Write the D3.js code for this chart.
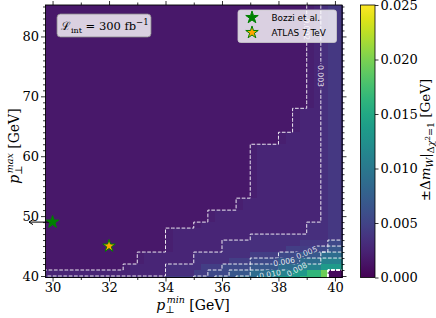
<!DOCTYPE html>
<html>
<head>
<meta charset="utf-8">
<script src="https://cdn.jsdelivr.net/npm/d3@7"></script>
<style>
  body { margin: 0; background: #fff; }
  svg text { font-family: "DejaVu Serif", serif; }
  .sans { font-family: "DejaVu Sans", sans-serif !important; }
</style>
</head>
<body>
<svg id="chart" width="436" height="318"></svg>
<script>
// axis ranges (GeV)
var pTminRange = [29.75, 40.25];
var pTmaxRange = [39.75, 85.25];

// cell edges: p_T^min in 0.25 GeV steps, p_T^max in 1 GeV steps (top to bottom)
var pTminEdges = d3.range(0, 43).map(function (k) { return 29.75 + 0.25 * k; });
var pTmaxEdges = [85.25].concat(d3.range(85, 39, -1), [39.75]);

// +-Delta m_W (GeV) for each code used in the grid below
var codeValue = {
  a: 0.0016, B: 0.0021, b: 0.0026, c: 0.0034, C: 0.0041, d: 0.0045,
  e: 0.0055, f: 0.0068, g: 0.0088, h: 0.0110, i: 0.0135, j: 0.0165,
  k: 0.0195, z: 0.0006
};

// rows top (85 GeV) to bottom (40 GeV), run-length coded left to right
var gridRows = [
  'a37 B1 b1 c1 C2', // 85
  'a37 B1 b1 c1 C2', // 84
  'a37 B1 b1 c1 C2',
  'a37 B1 b1 c1 C2',
  'a37 B1 b1 c1 C2', // 81
  'a37 B1 b1 c1 C2',
  'a37 B1 b1 c1 C2',
  'a37 B1 b1 c1 C2',
  'a37 B1 b1 c1 C2',
  'a37 B1 b1 c1 C2', // 76
  'a37 B1 b1 c1 C2',
  'a37 B1 b1 c1 C2',
  'a37 B1 b1 c1 C2',
  'a37 B1 b1 c1 C2',
  'a37 B1 b1 c1 C2', // 71
  'a37 B1 b1 c1 C2',
  'a37 B1 b1 c1 C2',
  'a37 B1 b1 c1 C2', // 68
  'a35 B1 b3 c1 C2', // 67
  'a35 B1 b3 c1 C2',
  'a35 B1 b3 c1 C2',
  'a35 B1 b3 c1 C2', // 64
  'a33 B1 b5 c1 C2', // 63
  'a33 B1 b5 c1 C2', // 62
  'a29 B1 b9 c1 C2', // 61
  'a29 B1 b9 c1 C2',
  'a29 B1 b9 c1 C2',
  'a29 B1 b9 c1 C2',
  'a29 B1 b9 c1 C2',
  'a29 B1 b9 c1 C2', // 56
  'a29 B1 b9 c1 C2',
  'a29 B1 b9 c1 C2',
  'a29 B1 b9 c1 C2', // 53
  'a27 B1 b11 c1 C2', // 52
  'a27 B1 b11 c1 C2', // 51
  'a23 B1 b15 c1 C2', // 50
  'a23 B1 b15 c1 C2', // 49
  'a21 B1 b15 c3 C2', // 48
  'a17 B1 b19 c3 C2', // 47
  'a17 B1 b11 c11 C2', // 46
  'a17 B1 b7 c11 C4 e2', // 45
  'a17 B1 b7 c9 d4 e2 f2', // 44
  'a13 B1 b7 c8 d4 e3 f3 g3', // 43
  'a13 B1 b7 c5 d3 e4 f3 g3 h3', // 42
  'a11 B1 b5 c5 d3 e4 f4 g3 h3 i3', // 41
  'b17 c4 d2 e3 f3 g3 h3 i2 j2 k1 z2', // 40
  'c17 d4 e3 f3 g3 h3 i3 j3 k1 z2' // 39.75
];

var contourLevels = [0.002, 0.003, 0.005, 0.006, 0.008, 0.010];
var contourLabels = [
  { level: 0.002, x: 39.0, y: 81.2, angle: 90 },
  { level: 0.003, x: 39.5, y: 73.4, angle: 90 },
  { level: 0.005, x: 39.0, y: 43.9, angle: -22 },
  { level: 0.006, x: 38.2, y: 42.4, angle: -10 },
  { level: 0.008, x: 38.65, y: 41.1, angle: -28 },
  { level: 0.010, x: 37.7, y: 40.3, angle: -10 }
];

var refNames = ['Bozzi et al.', 'ATLAS 7 TeV'];
var refPTmin = [30, 32];
var refPTmax = [49, 45];
var refFill = ['#008000', '#ffa500'];

var xTicks = [30, 32, 34, 36, 38, 40];
var yTicks = [40, 50, 60, 70, 80];
var cbTicks = [0, 0.005, 0.010, 0.015, 0.020, 0.025];

// ---------------------------------------------------------------
var svg = d3.select('#chart');
var L = 45.5, R = 342, T = 5, B = 277.5;

var x = d3.scaleLinear().domain(pTminRange).range([L, R]);
var y = d3.scaleLinear().domain(pTmaxRange).range([B, T]);
var color = d3.scaleSequential(d3.interpolateViridis).domain([0, 0.025]);

// decode rows, merging equal neighbours into horizontal runs
var grid = [];
var runs = [];
gridRows.forEach(function (row, r) {
  var out = [];
  row.split(' ').forEach(function (run) {
    var n = +run.slice(1);
    runs.push({ c0: out.length, c1: out.length + n, r: r, v: codeValue[run[0]] });
    for (var q = 0; q < n; q++) out.push(codeValue[run[0]]);
  });
  grid.push(out);
});

svg.append('rect')
  .attr('x', L).attr('y', T).attr('width', R - L).attr('height', B - T)
  .attr('fill', color(codeValue.a));

svg.append('g')
  .attr('shape-rendering', 'crispEdges')
  .selectAll('rect')
  .data(runs)
  .enter().append('rect')
  .attr('x', function (d) { return x(pTminEdges[d.c0]); })
  .attr('y', function (d) { return y(pTmaxEdges[d.r]); })
  .attr('width', function (d) { return x(pTminEdges[d.c1]) - x(pTminEdges[d.c0]) + 0.5; })
  .attr('height', function (d) { return y(pTmaxEdges[d.r + 1]) - y(pTmaxEdges[d.r]) + 0.5; })
  .attr('fill', function (d) { return color(d.v); });

// staircase contours along cell edges
function traceLevel (level) {
  var nR = grid.length, nC = grid[0].length;
  var segs = [];
  for (var r = 0; r < nR; r++) {
    for (var c = 0; c < nC; c++) {
      var up = grid[r][c] >= level;
      if (c + 1 < nC && up !== (grid[r][c + 1] >= level)) segs.push([[c + 1, r], [c + 1, r + 1]]);
      if (r + 1 < nR && up !== (grid[r + 1][c] >= level)) segs.push([[c, r + 1], [c + 1, r + 1]]);
    }
  }
  var key = function (p) { return p[0] + ',' + p[1]; };
  var byPt = new Map();
  segs.forEach(function (s, i) {
    s.forEach(function (p) {
      var k = key(p);
      if (!byPt.has(k)) byPt.set(k, []);
      byPt.get(k).push(i);
    });
  });
  var used = segs.map(function () { return false; });
  function extend (line, atStart) {
    for (;;) {
      var end = atStart ? line[0] : line[line.length - 1];
      var cand = byPt.get(key(end)).filter(function (j) { return !used[j]; });
      if (!cand.length) break;
      used[cand[0]] = true;
      var s = segs[cand[0]];
      var next = key(s[0]) === key(end) ? s[1] : s[0];
      if (atStart) line.unshift(next); else line.push(next);
    }
  }
  var lines = [];
  segs.forEach(function (s, i) {
    if (used[i]) return;
    used[i] = true;
    var line = [s[0], s[1]];
    extend(line, false);
    extend(line, true);
    lines.push(line);
  });
  return lines;
}

var defs = svg.append('defs');
var mask = defs.append('mask').attr('id', 'lblmask').attr('maskUnits', 'userSpaceOnUse')
  .attr('x', 0).attr('y', 0).attr('width', 436).attr('height', 318);
mask.append('rect').attr('width', 436).attr('height', 318).attr('fill', '#fff');
mask.selectAll('.hole')
  .data(contourLabels)
  .enter().append('rect')
  .attr('x', -12).attr('y', -4.5).attr('width', 24).attr('height', 9)
  .attr('transform', function (d) { return 'translate(' + x(d.x) + ',' + y(d.y) + ') rotate(' + d.angle + ')'; })
  .attr('fill', '#000');

var lineGen = d3.line()
  .x(function (p) { return x(pTminEdges[p[0]]); })
  .y(function (p) { return y(pTmaxEdges[p[1]]); });

var cg = svg.append('g').attr('mask', 'url(#lblmask)');
contourLevels.forEach(function (lv) {
  cg.selectAll(null)
    .data(traceLevel(lv))
    .enter().append('path')
    .attr('d', lineGen)
    .attr('fill', 'none')
    .attr('stroke', '#fff')
    .attr('stroke-opacity', 0.9)
    .attr('stroke-width', 1)
    .attr('stroke-dasharray', '3.7,1.6');
});

svg.append('g').selectAll('text')
  .data(contourLabels)
  .enter().append('text')
  .attr('class', 'sans')
  .attr('transform', function (d) { return 'translate(' + x(d.x) + ',' + y(d.y) + ') rotate(' + d.angle + ')'; })
  .attr('text-anchor', 'middle')
  .attr('dy', '0.35em')
  .attr('font-size', 7.7)
  .attr('fill', '#fff')
  .attr('fill-opacity', 0.85)
  .text(function (d) { return d3.format('.3f')(d.level); });

// arrow from the Bozzi et al. point
svg.append('line')
  .attr('x1', x(refPTmin[0])).attr('y1', y(refPTmax[0]))
  .attr('x2', 29).attr('y2', y(refPTmax[0]))
  .attr('stroke', '#000').attr('stroke-width', 1);
svg.append('path')
  .attr('d', 'M' + 33 + ',' + (y(refPTmax[0]) - 2.5) + 'L29,' + y(refPTmax[0]) + 'L33,' + (y(refPTmax[0]) + 2.5))
  .attr('fill', 'none').attr('stroke', '#000').attr('stroke-width', 1);

var star = d3.symbol().type(d3.symbolStar).size(48);
svg.append('g').selectAll('path')
  .data(refNames)
  .enter().append('path')
  .attr('d', star)
  .attr('transform', function (d, i) { return 'translate(' + x(refPTmin[i]) + ',' + y(refPTmax[i]) + ')'; })
  .attr('fill', function (d, i) { return refFill[i]; })
  .attr('stroke', '#008000')
  .attr('stroke-width', 1);

// frame + ticks on all sides
svg.append('rect')
  .attr('x', L).attr('y', T).attr('width', R - L).attr('height', B - T)
  .attr('fill', 'none').attr('stroke', '#000').attr('stroke-width', 0.9);

function styleAxis (g) {
  g.select('.domain').remove();
  g.selectAll('line').attr('stroke', '#000').attr('stroke-width', 0.8);
  g.selectAll('text').attr('font-family', '"DejaVu Serif", serif').attr('font-size', 13).attr('fill', '#000');
}
var xMinor = d3.range(30, 41).filter(function (v) { return xTicks.indexOf(v) < 0; });
var yMinor = d3.range(40, 86).filter(function (v) { return yTicks.indexOf(v) < 0; });

svg.append('g').attr('transform', 'translate(0,' + B + ')')
  .call(d3.axisBottom(x).tickValues(xTicks).tickSize(4).tickPadding(1).tickFormat(d3.format('d'))).call(styleAxis);
svg.append('g').attr('transform', 'translate(0,' + B + ')')
  .call(d3.axisBottom(x).tickValues(xMinor).tickSize(2.5).tickFormat('')).call(styleAxis);
svg.append('g').attr('transform', 'translate(0,' + T + ')')
  .call(d3.axisTop(x).tickValues(xTicks).tickSize(4).tickFormat('')).call(styleAxis);
svg.append('g').attr('transform', 'translate(0,' + T + ')')
  .call(d3.axisTop(x).tickValues(xMinor).tickSize(2.5).tickFormat('')).call(styleAxis);
svg.append('g').attr('transform', 'translate(' + L + ',0)')
  .call(d3.axisLeft(y).tickValues(yTicks).tickSize(4.5).tickPadding(2).tickFormat(d3.format('d'))).call(styleAxis);
svg.append('g').attr('transform', 'translate(' + L + ',0)')
  .call(d3.axisLeft(y).tickValues(yMinor).tickSize(2.5).tickFormat('')).call(styleAxis);
svg.append('g').attr('transform', 'translate(' + R + ',0)')
  .call(d3.axisRight(y).tickValues(yTicks).tickSize(4.5).tickFormat('')).call(styleAxis);
svg.append('g').attr('transform', 'translate(' + R + ',0)')
  .call(d3.axisRight(y).tickValues(yMinor).tickSize(2.5).tickFormat('')).call(styleAxis);

// axis titles
var xt = svg.append('text').attr('x', 193).attr('y', 309.5).attr('text-anchor', 'middle').attr('font-size', 14);
xt.append('tspan').attr('font-style', 'italic').text('p');
xt.append('tspan').attr('font-size', 10).attr('dy', 3).text('\u22a5');
xt.append('tspan').attr('font-size', 9.5).attr('font-style', 'italic').attr('dx', -8).attr('dy', -9.5).text('min');
xt.append('tspan').attr('dy', 6.5).text(' [GeV]');

var yt = svg.append('text').attr('transform', 'translate(19,146) rotate(-90)').attr('text-anchor', 'middle').attr('font-size', 14);
yt.append('tspan').attr('font-style', 'italic').text('p');
yt.append('tspan').attr('font-size', 10).attr('dy', 3).text('\u22a5');
yt.append('tspan').attr('font-size', 9.5).attr('font-style', 'italic').attr('dx', -8).attr('dy', -9.5).text('max');
yt.append('tspan').attr('dy', 6.5).text(' [GeV]');

// colorbar
var cbL = 360.5, cbW = 14.5;
var cb = d3.scaleLinear().domain([0, 0.025]).range([B, T]);
var grad = defs.append('linearGradient').attr('id', 'cbgrad').attr('x1', 0).attr('y1', 1).attr('x2', 0).attr('y2', 0);
d3.range(0, 1.0001, 0.05).forEach(function (t) {
  grad.append('stop').attr('offset', t).attr('stop-color', d3.interpolateViridis(t));
});
svg.append('rect').attr('x', cbL).attr('y', T).attr('width', cbW).attr('height', B - T)
  .attr('fill', 'url(#cbgrad)').attr('stroke', '#000').attr('stroke-width', 0.8);
svg.append('g').attr('transform', 'translate(' + (cbL + cbW) + ',0)')
  .call(d3.axisRight(cb).tickValues(cbTicks).tickSize(3.5).tickPadding(2).tickFormat(d3.format('.3f'))).call(styleAxis);

var ct = svg.append('text').attr('transform', 'translate(430,140) rotate(-90)').attr('text-anchor', 'middle').attr('font-size', 13.5);
ct.append('tspan').text('\u00b1\u0394');
ct.append('tspan').attr('font-style', 'italic').text('m');
ct.append('tspan').attr('font-style', 'italic').attr('font-size', 9.5).attr('dy', 3).text('W');
ct.append('tspan').attr('dy', -3).text('|');
ct.append('tspan').attr('font-size', 9.5).attr('dy', 4).text('\u0394');
ct.append('tspan').attr('font-size', 9.5).attr('font-style', 'italic').text('\u03c7');
ct.append('tspan').attr('font-size', 7).attr('dy', -4).text('2');
ct.append('tspan').attr('font-size', 9.5).attr('dy', 4).text('=1');
ct.append('tspan').attr('dy', -4).text(' [GeV]');

// legend
var lg = svg.append('g');
lg.append('rect').attr('x', 238).attr('y', 10).attr('width', 98.5).attr('height', 32.5).attr('rx', 2.5)
  .attr('fill', '#fff').attr('fill-opacity', 0.8).attr('stroke', '#cccccc').attr('stroke-width', 0.8);
refNames.forEach(function (name, i) {
  lg.append('path').attr('d', star).attr('transform', 'translate(252,' + (17.5 + 15 * i) + ')')
    .attr('fill', refFill[i]).attr('stroke', '#008000').attr('stroke-width', 1);
  lg.append('text').attr('class', 'sans').attr('x', 271.5).attr('y', 20.6 + 15 * i)
    .attr('font-size', 8.9).attr('fill', '#000').text(name);
});

// luminosity box
var lb = svg.append('g');
lb.append('rect').attr('x', 57).attr('y', 14).attr('width', 94).attr('height', 23).attr('rx', 3.5)
  .attr('fill', '#fff').attr('fill-opacity', 0.8).attr('stroke', '#888').attr('stroke-width', 0.8);
var lt = lb.append('text').attr('x', 61).attr('y', 30).attr('font-size', 11.5).attr('fill', '#000');
lt.append('tspan').text('\u2112');
lt.append('tspan').attr('font-size', 8).attr('dy', 3).text('int');
lt.append('tspan').attr('dy', -3).text(' = 300 fb');
lt.append('tspan').attr('font-size', 8.5).attr('dy', -5).text('\u22121');
</script>
</body>
</html>
